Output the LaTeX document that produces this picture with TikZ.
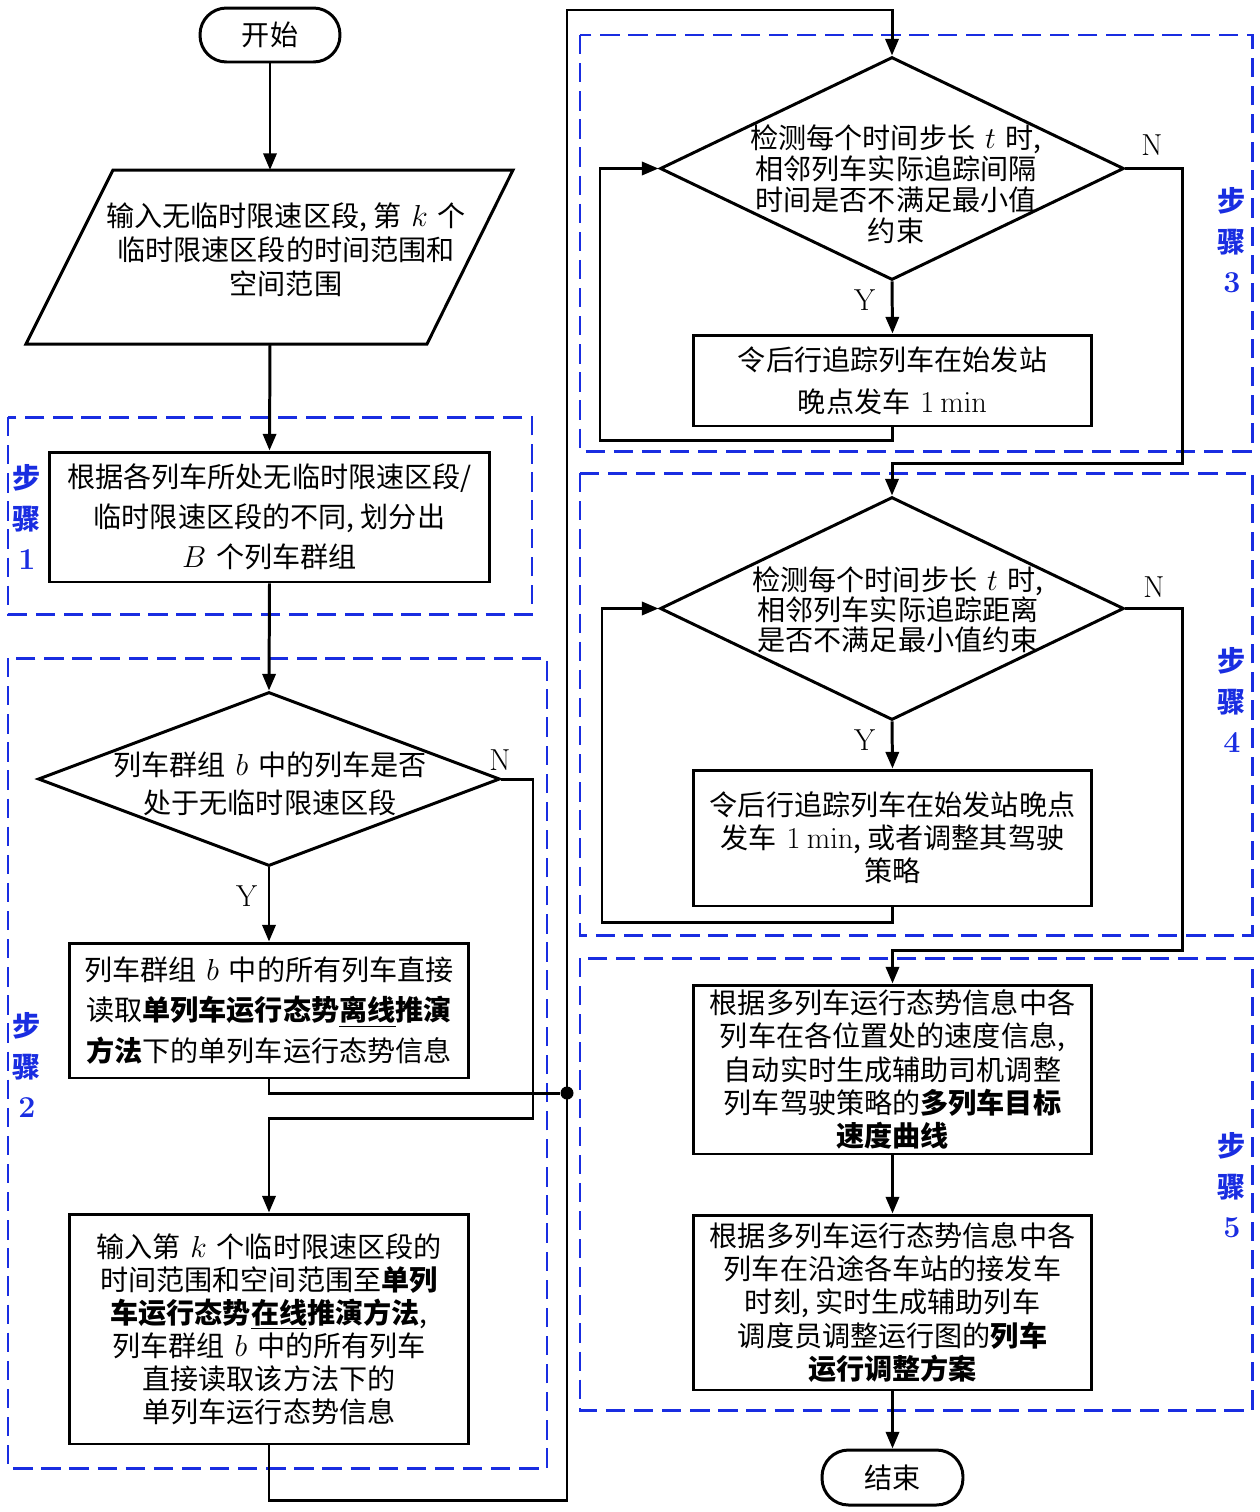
\documentclass[tikz,border=0pt]{standalone}
\usepackage[no-math]{fontspec}
\setmainfont{Noto Sans CJK SC}
\usetikzlibrary{shapes.geometric,arrows.meta}
\definecolor{stepblue}{RGB}{25,45,225}
\newcommand\gp{\hspace{0.35em}}
\begin{document}
\begin{tikzpicture}[x=0.02cm,y=-0.02cm,
  line/.style={line width=1.7pt,black},
  arr/.style={line,-{Triangle[length=9.5pt,width=7.5pt]}},
  fs/.style={font=\fontsize{16pt}{#1}\selectfont},
  box/.style={draw,line width=1.7pt,inner sep=0pt,align=center},
  dia/.style={draw,diamond,line width=1.7pt,inner sep=0pt},
  term/.style={draw,line width=1.7pt,inner sep=0pt,rounded corners=0.53cm,fs=20pt},
  txt/.style={inner sep=0pt,align=center},
  grp/.style={draw=stepblue,line width=1.7pt,dash pattern=on 11pt off 5pt},
  steplab/.style={text=stepblue,align=center,font=\bfseries\fontsize{16pt}{22.8pt}\selectfont},
  yn/.style={inner sep=0pt,font=\fontsize{16.5pt}{17pt}\selectfont},
  dot/.style={circle,fill=black,inner sep=0pt,minimum size=0.26cm}]
\useasboundingbox (0,0) rectangle (1260,1512);

% dashed step groups
\draw[grp] (8,417) rectangle (532,614);
\draw[grp] (8,658) rectangle (547,1468);
\draw[grp] (580,35) rectangle (1252,451);
\draw[grp] (580,473) rectangle (1252,935);
\draw[grp] (580,958) rectangle (1252,1410);

\node[steplab] (s1) at (27,517) {步\\骤\\$\mathbf{1}$};
\node[steplab] (s2) at (27,1065) {步\\骤\\$\mathbf{2}$};
\node[steplab] (s3) at (1232,240) {步\\骤\\$\mathbf{3}$};
\node[steplab] (s4) at (1232,700) {步\\骤\\$\mathbf{4}$};
\node[steplab] (s5) at (1232,1185) {步\\骤\\$\mathbf{5}$};

% left column
\node[term,minimum width=2.8cm,minimum height=1.08cm] (start) at (270,35) {开始};
\draw[line] (113,170) -- (513,170) -- (427,344) -- (26,344) -- cycle;
\coordinate (pt) at (270,170);
\coordinate (pb) at (270,344);
\node[txt,fs=19.3pt] (para) at (286,250) {输入无临时限速区段, 第\gp{}$k$\gp{}个\\临时限速区段的时间范围和\\空间范围};

\node[box,fs=22.8pt,minimum width=8.82cm,minimum height=2.6cm] (b1) at (269.5,517)
  {根据各列车所处无临时限速区段/\\临时限速区段的不同, 划分出\\$B$\gp{}个列车群组};

\node[dia,minimum width=9.24cm,minimum height=3.48cm] (d2) at (269,779) {};
\node[txt,fs=21.6pt] (d2t) at (270,784) {列车群组\gp{}$b$\gp{}中的列车是否\\处于无临时限速区段};

\node[box,fs=23.3pt,minimum width=8cm,minimum height=2.7cm] (b2a) at (269,1010.5)
  {列车群组\gp{}$b$\gp{}中的所有列车直接\\读取\textbf{单列车运行态势\underline{离线}推演}\\\textbf{方法}下的单列车运行态势信息};

\node[box,fs=18.8pt,minimum width=8cm,minimum height=4.6cm] (b2b) at (269,1329)
  {输入第\gp{}$k$\gp{}个临时限速区段的\\时间范围和空间范围至\textbf{单列}\\\textbf{车运行态势\underline{在线}推演方法},\\列车群组\gp{}$b$\gp{}中的所有列车\\直接读取该方法下的\\单列车运行态势信息};

% right column
\node[dia,minimum width=9.28cm,minimum height=4.46cm] (d3) at (892,168.5) {};
\node[txt,fs=17.6pt] (d3t) at (896,184) {检测每个时间步长\gp{}$t$\gp{}时,\\相邻列车实际追踪间隔\\时间是否不满足最小值\\约束};

\node[box,fs=24pt,minimum width=7.98cm,minimum height=1.82cm] (b3) at (892.5,380.5)
  {令后行追踪列车在始发站\\晚点发车\gp{}$1~\mathrm{min}$};

\node[dia,minimum width=9.28cm,minimum height=4.46cm] (d4) at (892,608.5) {};
\node[txt,fs=17pt] (d4t) at (898,610) {检测每个时间步长\gp{}$t$\gp{}时,\\相邻列车实际追踪距离\\是否不满足最小值约束};

\node[box,fs=18.8pt,minimum width=7.98cm,minimum height=2.72cm] (b4) at (892.5,838)
  {令后行追踪列车在始发站晚点\\发车\gp{}$1~\mathrm{min}$, 或者调整其驾驶\\策略};

\node[box,fs=19pt,minimum width=7.98cm,minimum height=3.38cm] (b5a) at (892.5,1069.5)
  {根据多列车运行态势信息中各\\列车在各位置处的速度信息,\\自动实时生成辅助司机调整\\列车驾驶策略的\textbf{多列车目标}\\\textbf{速度曲线}};

\node[box,fs=19pt,minimum width=7.98cm,minimum height=3.5cm] (b5b) at (892.5,1302.5)
  {根据多列车运行态势信息中各\\列车在沿途各车站的接发车\\时刻, 实时生成辅助列车\\调度员调整运行图的\textbf{列车}\\\textbf{运行调整方案}};

\node[term,minimum width=2.82cm,minimum height=1.1cm] (end) at (892.5,1477.5) {结束};

% junction
\node[dot] (dot) at (567,1093) {};
\coordinate (c1) at (533,1118);
\coordinate (c2) at (567,1500);
\coordinate (c3) at (567,10);
\coordinate (c4) at (600,440);
\coordinate (c5) at (1182,463);
\coordinate (c6) at (602,922);
\coordinate (c7) at (1182,950);

% connectors
\draw[arr] (start.south) -- (pt);
\draw[arr] (pb) -- (b1.north);
\draw[arr] (b1.south) -- (d2.north);
\draw[arr] (d2.south) -- (b2a.north);
\draw[arr] (d2.east) -| (c1) -| (b2b.north);
\draw[line] (b2a.south) |- (dot);
\draw[arr] (b2b.south) |- (c2) -- (c3) -| (d3.north);
\draw[arr] (d3.south) -- (b3.north);
\draw[arr] (b3.south) |- (c4) |- (d3.west);
\draw[arr] (d3.east) -| (c5) -| (d4.north);
\draw[arr] (d4.south) -- (b4.north);
\draw[arr] (b4.south) |- (c6) |- (d4.west);
\draw[arr] (d4.east) -| (c7) -| (b5a.north);
\draw[arr] (b5a.south) -- (b5b.north);
\draw[arr] (b5b.south) -- (end.north);

% Y/N labels
\node[yn] (n2) at (500,760) {$\mathrm{N}$};
\node[yn] (y2) at (247,896) {$\mathrm{Y}$};
\node[yn] (n3) at (1152,145) {$\mathrm{N}$};
\node[yn] (y3) at (865,300) {$\mathrm{Y}$};
\node[yn] (n4) at (1154,587) {$\mathrm{N}$};
\node[yn] (y4) at (865,740) {$\mathrm{Y}$};
\end{tikzpicture}
\end{document}
